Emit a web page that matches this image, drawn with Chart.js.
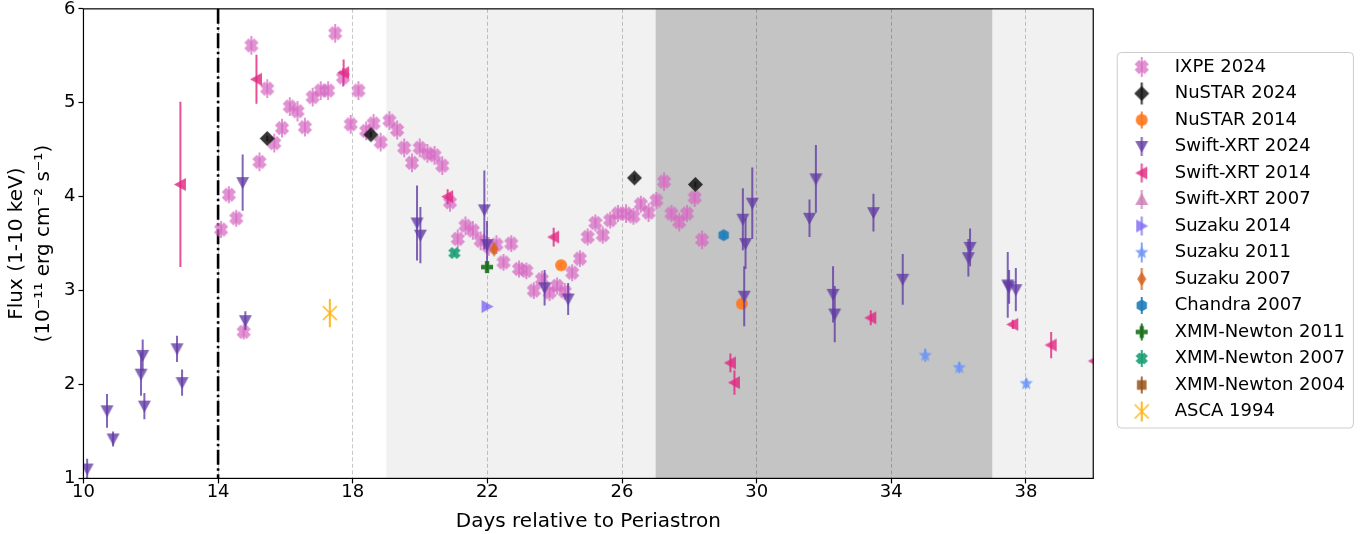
<!DOCTYPE html>
<html>
<head>
<meta charset="utf-8">
<title>Flux vs days relative to periastron</title>
<script src="https://cdn.jsdelivr.net/npm/chart.js@4.4.0/dist/chart.umd.min.js"></script>
<style>
  body { margin: 0; background: #fff; }
  #wrap { width: 1372px; height: 534px; }
</style>
</head>
<body>
<div id="wrap"><canvas id="fluxChart" width="1372" height="534"></canvas></div>
<script>
// axis ticks + the shaded windows (in days)
const xTicks = [10, 14, 18, 22, 26, 30, 34, 38];
const yTicks = [1, 2, 3, 4, 5, 6];
const periastronDay = 14;
const lightShade = [19, 40];
const darkShade = [27, 37];

// IXPE 2024
const ixpeDays = [14.09, 14.32, 14.54, 14.76, 14.99, 15.23, 15.46, 15.67, 15.90, 16.13, 16.36, 16.58, 16.81, 17.05, 17.27, 17.48, 17.71, 17.94, 18.17, 18.40, 18.62, 18.83, 19.09, 19.32, 19.53, 19.76, 19.99, 20.22, 20.43, 20.66, 20.89, 21.12, 21.35, 21.57, 21.80, 22.04, 22.27, 22.48, 22.71, 22.94, 23.16, 23.38, 23.62, 23.85, 24.07, 24.30, 24.52, 24.75, 24.98, 25.21, 25.43, 25.65, 25.88, 26.12, 26.34, 26.56, 26.79, 27.02, 27.25, 27.47, 27.70, 27.93, 28.16, 28.38];
const ixpeFlux = [3.65, 4.02, 3.77, 2.56, 5.61, 4.37, 5.15, 4.57, 4.73, 4.96, 4.91, 4.74, 5.06, 5.13, 5.13, 5.74, 5.27, 4.77, 5.13, 4.70, 4.78, 4.58, 4.81, 4.71, 4.52, 4.36, 4.52, 4.46, 4.44, 4.33, 3.94, 3.55, 3.69, 3.64, 3.53, 3.47, 3.49, 3.30, 3.50, 3.23, 3.21, 3.00, 3.12, 2.98, 3.05, 2.99, 3.19, 3.34, 3.57, 3.72, 3.59, 3.75, 3.82, 3.82, 3.79, 3.92, 3.83, 3.96, 4.16, 3.82, 3.73, 3.82, 3.99, 3.54];
const ixpeErr = [0.09, 0.09, 0.09, 0.08, 0.10, 0.10, 0.10, 0.10, 0.10, 0.10, 0.11, 0.10, 0.10, 0.10, 0.10, 0.10, 0.10, 0.10, 0.10, 0.10, 0.10, 0.10, 0.10, 0.10, 0.10, 0.10, 0.10, 0.10, 0.10, 0.10, 0.10, 0.10, 0.10, 0.10, 0.10, 0.10, 0.10, 0.09, 0.09, 0.09, 0.09, 0.09, 0.09, 0.09, 0.09, 0.09, 0.09, 0.09, 0.09, 0.09, 0.09, 0.09, 0.09, 0.10, 0.09, 0.09, 0.10, 0.09, 0.10, 0.09, 0.10, 0.09, 0.10, 0.10];

// NuSTAR
const nustar24Days = [15.46, 18.54, 26.37, 28.18];
const nustar24Flux = [4.62, 4.66, 4.20, 4.13];
const nustar24Err = [0.03, 0.03, 0.03, 0.03];
const nustar14Days = [24.19, 29.56];
const nustar14Flux = [3.27, 2.86];
const nustar14Err = [0.03, 0.03];

// Swift-XRT
const swift24Days = [10.11, 10.70, 10.88, 11.71, 11.76, 11.81, 12.78, 12.93, 14.73, 14.81, 19.91, 20.01, 21.91, 21.99, 23.70, 24.40, 29.59, 29.63, 29.67, 29.87, 31.57, 31.76, 32.27, 32.32, 33.47, 34.34, 36.29, 36.34, 37.46, 37.50, 37.70];
const swift24Flux = [1.10, 1.72, 1.42, 2.11, 2.31, 1.77, 2.38, 2.02, 4.15, 2.68, 3.72, 3.59, 3.86, 3.49, 3.03, 2.91, 3.76, 2.94, 3.50, 3.93, 3.77, 4.19, 2.96, 2.75, 3.83, 3.12, 3.35, 3.46, 3.06, 3.04, 3.01];
const swift24Err = [0.11, 0.18, 0.08, 0.23, 0.17, 0.14, 0.14, 0.14, 0.30, 0.10, 0.40, 0.30, 0.42, 0.25, 0.19, 0.17, 0.33, 0.32, 0.27, 0.38, 0.20, 0.36, 0.30, 0.30, 0.20, 0.27, 0.20, 0.20, 0.35, 0.18, 0.23];
const swift14Days = [12.88, 15.14, 17.73, 20.82, 23.97, 29.22, 29.34, 33.39, 37.61, 38.75, 40.03];
const swift14Flux = [4.13, 5.25, 5.32, 4.00, 3.57, 2.23, 2.02, 2.71, 2.64, 2.42, 2.25];
const swift14Err = [0.88, 0.26, 0.14, 0.08, 0.10, 0.10, 0.13, 0.08, 0.05, 0.14, 0.10];
const swift07Days = [];
const swift07Flux = [];
const swift07Err = [];

// Suzaku
const suzaku14Days = [21.99];
const suzaku14Flux = [2.83];
const suzaku14Err = [0.02];
const suzaku11Days = [35.01, 36.02, 38.01];
const suzaku11Flux = [2.31, 2.18, 2.01];
const suzaku11Err = [0.07, 0.06, 0.05];
const suzaku07Days = [22.20];
const suzaku07Flux = [3.44];
const suzaku07Err = [0.05];

// Chandra / XMM / ASCA
const chandraDays = [29.02];
const chandraFlux = [3.59];
const chandraErr = [0.03];
const xmm11Days = [21.99];
const xmm11Flux = [3.25];
const xmm11Err = [0.03];
const xmm07Days = [21.02];
const xmm07Flux = [3.40];
const xmm07Err = [0.03];
const xmm04Days = [];
const xmm04Flux = [];
const xmm04Err = [];
const ascaDays = [17.32];
const ascaFlux = [2.76];
const ascaErr = [0.15];

const FONT = 'DejaVu Sans';
Chart.defaults.font.family = FONT;
Chart.defaults.color = '#000';

// draws a matplotlib-ish marker on a small canvas (optionally with the errorbar stroke for the legend)
function makeMarker(shape, color, size, withBar) {
  const pad = 2;
  const c = document.createElement('canvas');
  c.width = size + pad * 2;
  c.height = (withBar ? Math.round(size * 1.45) : size) + pad * 2;
  const g = c.getContext('2d');
  const cx = c.width / 2, cy = c.height / 2, r = size / 2;
  g.fillStyle = color;
  g.strokeStyle = color;
  if (withBar) {
    g.lineWidth = 2;
    g.beginPath();
    g.moveTo(cx, pad);
    g.lineTo(cx, c.height - pad);
    g.stroke();
  }
  const poly = pts => {
    g.beginPath();
    pts.forEach(([px, py], i) => i ? g.lineTo(cx + px * r, cy + py * r) : g.moveTo(cx + px * r, cy + py * r));
    g.closePath();
    g.fill();
  };
  const plus = t => [[t, -1], [t, -t], [1, -t], [1, t], [t, t], [t, 1], [-t, 1], [-t, t], [-1, t], [-1, -t], [-t, -t], [-t, -1]];
  if (shape === 'o') {
    g.beginPath(); g.arc(cx, cy, r, 0, Math.PI * 2); g.fill();
  } else if (shape === 'D') {
    poly([[0, -1], [1, 0], [0, 1], [-1, 0]]);
  } else if (shape === 'd') {
    poly([[0, -1], [0.6, 0], [0, 1], [-0.6, 0]]);
  } else if (shape === 's') {
    poly([[-0.8, -0.8], [0.8, -0.8], [0.8, 0.8], [-0.8, 0.8]]);
  } else if (shape === 'v') {
    poly([[-1, -0.85], [1, -0.85], [0, 1]]);
  } else if (shape === '^') {
    poly([[0, -1], [1, 0.85], [-1, 0.85]]);
  } else if (shape === '<') {
    poly([[-1, 0], [0.85, -1], [0.85, 1]]);
  } else if (shape === '>') {
    poly([[1, 0], [-0.85, -1], [-0.85, 1]]);
  } else if (shape === '*') {
    const pts = [];
    for (let k = 0; k < 10; k++) {
      const a = -Math.PI / 2 + k * Math.PI / 5, rr = k % 2 ? 0.45 : 1;
      pts.push([Math.cos(a) * rr, Math.sin(a) * rr]);
    }
    poly(pts);
  } else if (shape === 'h') {
    const pts = [];
    for (let k = 0; k < 6; k++) {
      const a = -Math.PI / 2 + k * Math.PI / 3;
      pts.push([Math.cos(a), Math.sin(a)]);
    }
    poly(pts);
  } else if (shape === 'P') {
    poly(plus(0.36));
  } else if (shape === 'X') {
    const s = Math.SQRT1_2 * 1.0;
    poly(plus(0.44).map(([px, py]) => [(px - py) * s, (px + py) * s]));
  } else if (shape === 'x') {
    g.lineWidth = 1.5;
    g.beginPath();
    g.moveTo(cx - r, cy - r); g.lineTo(cx + r, cy + r);
    g.moveTo(cx + r, cy - r); g.lineTo(cx - r, cy + r);
    g.stroke();
  }
  return c;
}

// one row per instrument: which arrays + how it's drawn
const series = [
  { label: 'IXPE 2024', x: ixpeDays, y: ixpeFlux, err: ixpeErr, shape: 'X', color: 'rgba(214,104,194,0.72)', size: 14 },
  { label: 'NuSTAR 2024', x: nustar24Days, y: nustar24Flux, err: nustar24Err, shape: 'D', color: 'rgba(20,20,20,0.85)', size: 15 },
  { label: 'NuSTAR 2014', x: nustar14Days, y: nustar14Flux, err: nustar14Err, shape: 'o', color: 'rgba(255,120,30,0.9)', size: 12 },
  { label: 'Swift-XRT 2024', x: swift24Days, y: swift24Flux, err: swift24Err, shape: 'v', color: 'rgba(96,58,164,0.78)', size: 13 },
  { label: 'Swift-XRT 2014', x: swift14Days, y: swift14Flux, err: swift14Err, shape: '<', color: 'rgba(226,40,130,0.82)', size: 13 },
  { label: 'Swift-XRT 2007', x: swift07Days, y: swift07Flux, err: swift07Err, shape: '^', color: 'rgba(204,122,176,0.8)', size: 13 },
  { label: 'Suzaku 2014', x: suzaku14Days, y: suzaku14Flux, err: suzaku14Err, shape: '>', color: 'rgba(128,108,244,0.82)', size: 13 },
  { label: 'Suzaku 2011', x: suzaku11Days, y: suzaku11Flux, err: suzaku11Err, shape: '*', color: 'rgba(108,150,246,0.85)', size: 14 },
  { label: 'Suzaku 2007', x: suzaku07Days, y: suzaku07Flux, err: suzaku07Err, shape: 'd', color: 'rgba(214,100,30,0.85)', size: 15 },
  { label: 'Chandra 2007', x: chandraDays, y: chandraFlux, err: chandraErr, shape: 'h', color: 'rgba(30,124,186,0.9)', size: 12 },
  { label: 'XMM-Newton 2011', x: xmm11Days, y: xmm11Flux, err: xmm11Err, shape: 'P', color: 'rgba(24,110,24,0.9)', size: 12 },
  { label: 'XMM-Newton 2007', x: xmm07Days, y: xmm07Flux, err: xmm07Err, shape: 'X', color: 'rgba(26,158,118,0.9)', size: 12 },
  { label: 'XMM-Newton 2004', x: xmm04Days, y: xmm04Flux, err: xmm04Err, shape: 's', color: 'rgba(150,84,24,0.85)', size: 12 },
  { label: 'ASCA 1994', x: ascaDays, y: ascaFlux, err: ascaErr, shape: 'x', color: 'rgba(255,180,20,0.95)', size: 14 }
];

const datasets = series.map((s, i) => ({
  label: s.label,
  data: s.x.map((d, j) => ({ x: d, y: s.y[j] })),
  errors: s.err,
  errColor: s.color,
  pointStyle: makeMarker(s.shape, s.color, s.size, false),
  legendStyle: makeMarker(s.shape, s.color, s.size, true),
  pointRadius: s.size / 2,
  order: -i
}));

// grey windows go under everything (grid is drawn after this)
const shading = {
  id: 'shading',
  beforeDraw(chart) {
    const { ctx, chartArea: a, scales: { x } } = chart;
    ctx.save();
    ctx.fillStyle = '#fff';
    ctx.fillRect(0, 0, chart.width, chart.height);
    ctx.fillStyle = '#f1f1f1';
    ctx.fillRect(x.getPixelForValue(lightShade[0]), a.top, x.getPixelForValue(lightShade[1]) - x.getPixelForValue(lightShade[0]), a.height);
    ctx.fillStyle = '#c4c4c4';
    ctx.fillRect(x.getPixelForValue(darkShade[0]), a.top, x.getPixelForValue(darkShade[1]) - x.getPixelForValue(darkShade[0]), a.height);
    ctx.restore();
  },
  beforeDatasetsDraw(chart) {
    // periastron dash-dot line
    const { ctx, chartArea: a, scales: { x } } = chart;
    const px = x.getPixelForValue(periastronDay);
    ctx.save();
    ctx.strokeStyle = '#000';
    ctx.lineWidth = 2.6;
    ctx.setLineDash([15, 3.5, 2.5, 3.5]);
    ctx.beginPath();
    ctx.moveTo(px, a.top);
    ctx.lineTo(px, a.bottom);
    ctx.stroke();
    ctx.restore();
  },
  afterDatasetsDraw(chart) {
    // box around the axes
    const { ctx, chartArea: a } = chart;
    ctx.save();
    ctx.strokeStyle = '#000';
    ctx.lineWidth = 1.2;
    ctx.strokeRect(a.left, a.top, a.width, a.height);
    ctx.restore();
  }
};

// vertical error bars, drawn right before each dataset's markers
const errorBars = {
  id: 'errorBars',
  beforeDatasetDraw(chart, args) {
    const ds = chart.data.datasets[args.index];
    if (!ds.errors) return;
    const { ctx, chartArea: a, scales: { y } } = chart;
    ctx.save();
    ctx.beginPath();
    ctx.rect(a.left, a.top, a.width, a.height);
    ctx.clip();
    ctx.strokeStyle = ds.errColor;
    ctx.lineWidth = 2;
    args.meta.data.forEach((pt, j) => {
      const v = ds.data[j].y, e = ds.errors[j];
      ctx.beginPath();
      ctx.moveTo(pt.x, y.getPixelForValue(v - e));
      ctx.lineTo(pt.x, y.getPixelForValue(v + e));
      ctx.stroke();
    });
    ctx.restore();
  }
};

// legend fit() doesn't count pointStyleWidth, so the text got clipped - give it the room back
const widenLegend = {
  id: 'widenLegend',
  beforeLayout(chart) {
    const lg = chart.legend;
    if (lg && !lg._widened) {
      const fit = lg.fit;
      lg.fit = function () { fit.call(this); this.width += 30; };
      lg._widened = true;
    }
  }
};

// rounded grey frame round the legend
const legendFrame = {
  id: 'legendFrame',
  afterDraw(chart) {
    const boxes = chart.legend.legendHitBoxes;
    if (!boxes || !boxes.length) return;
    const left = Math.min(...boxes.map(b => b.left)) - 1;
    const right = Math.max(...boxes.map(b => b.left + b.width)) + 8;
    const top = boxes[0].top - 6;
    const bottom = boxes[boxes.length - 1].top + boxes[boxes.length - 1].height + 7;
    const ctx = chart.ctx;
    ctx.save();
    ctx.strokeStyle = '#cccccc';
    ctx.lineWidth = 1;
    ctx.beginPath();
    ctx.roundRect(left + 0.5, top + 0.5, right - left, bottom - top, 4);
    ctx.stroke();
    ctx.restore();
  }
};

const ctxFlux = document.getElementById('fluxChart').getContext('2d');

new Chart(ctxFlux, {
  type: 'scatter',
  data: { datasets },
  options: {
    responsive: false,
    animation: false,
    layout: { padding: { left: 3, right: 5.5, top: -5, bottom: 0 } },
    plugins: {
      tooltip: { enabled: false },
      legend: {
        position: 'right',
        align: 'start',
        title: { display: true, text: '', font: { size: 10 }, padding: { top: 42.5, bottom: 0 } },
        labels: {
          usePointStyle: true,
          pointStyleWidth: 48,
          padding: 8.5,
          font: { size: 18, family: FONT },
          color: '#000',
          generateLabels: chart => chart.data.datasets.map((ds, i) => ({
            text: ds.label,
            pointStyle: ds.legendStyle,
            fillStyle: 'transparent',
            strokeStyle: 'transparent',
            lineWidth: 0,
            hidden: false,
            datasetIndex: i,
            fontColor: '#000'
          }))
        }
      }
    },
    scales: {
      x: {
        type: 'linear',
        min: 10,
        max: 40,
        afterBuildTicks: s => { s.ticks = xTicks.map(v => ({ value: v })); },
        ticks: { font: { size: 18 }, color: '#000', padding: -2, maxRotation: 0 },
        grid: { color: 'rgba(0,0,0,0.22)', lineWidth: 1, tickColor: '#000', tickLength: 5, tickWidth: 1.2, tickBorderDash: [] },
        border: { display: false, dash: [4, 2.5] },
        title: { display: true, text: 'Days relative to Periastron', font: { size: 20 }, color: '#000', padding: { top: 9, bottom: 0 } }
      },
      y: {
        type: 'linear',
        min: 1,
        max: 6,
        afterBuildTicks: s => { s.ticks = yTicks.map(v => ({ value: v })); },
        ticks: { font: { size: 18, lineHeight: 0.65 }, color: '#000', padding: 3 },
        grid: { drawOnChartArea: false, tickColor: '#000', tickLength: 5, tickWidth: 1.2 },
        border: { display: false },
        title: { display: true, text: ['Flux (1-10 keV)', '(10\u207B\u00B9\u00B9 erg cm\u207B\u00B2 s\u207B\u00B9)'], font: { size: 20, lineHeight: 1.35 }, color: '#000', padding: { top: 0, bottom: 4 } }
      },
      // empty axis, only there to leave a gap between plot and legend
      gap: {
        type: 'linear',
        axis: 'y',
        position: 'right',
        display: true,
        grid: { display: false, drawTicks: false },
        ticks: { display: false },
        border: { display: false },
        afterFit: s => { s.width = 16; }
      }
    }
  },
  plugins: [widenLegend, shading, errorBars, legendFrame]
});
</script>
</body>
</html>
